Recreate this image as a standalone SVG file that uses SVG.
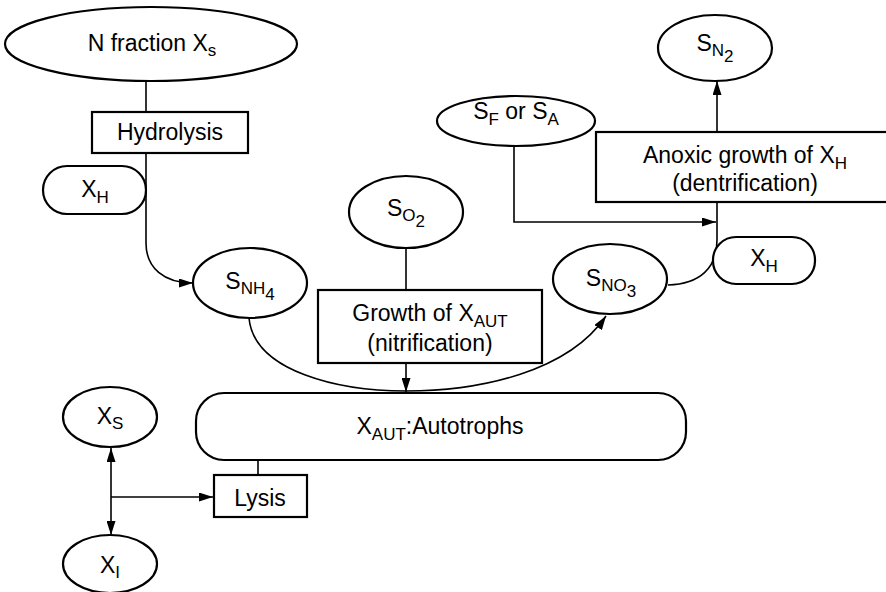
<svg xmlns="http://www.w3.org/2000/svg" width="886" height="592" viewBox="0 0 886 592">
  <style>
    .shape { fill: #fff; stroke: #000; stroke-width: 2.2; }
    .wire { fill: none; stroke: #000; stroke-width: 1.6; }
    text { font-family: "Liberation Sans", Arial, sans-serif; font-size: 23px; fill: #000; text-anchor: middle; }
    .sub { font-size: 17px; }
  </style>
  <defs>
    <marker id="arrow" viewBox="0 0 14 9" refX="14" refY="4.5" markerWidth="14" markerHeight="9" markerUnits="userSpaceOnUse" orient="auto">
      <path d="M0,0 L14,4.5 L0,9 Z" fill="#000"/>
    </marker>
  </defs>

  <g id="connectors">
    <!-- N fraction -> Hydrolysis -> S_NH4 -->
    <path class="wire" d="M146,81 V112"/>
    <path class="wire" d="M146,153 V243 C146,268 164,283 193,283" marker-end="url(#arrow)"/>
    <!-- S_O2 -> Growth of X_AUT -> autotrophs -->
    <path class="wire" d="M406,248 V290"/>
    <path class="wire" d="M406,363 V392" marker-end="url(#arrow)"/>
    <!-- S_NH4 -> S_NO3 -->
    <path class="wire" d="M249,318 C254,372 340,391 406,391 C480,391 568,372 606,316" marker-end="url(#arrow)"/>
    <!-- S_F or S_A -> denitrification path -->
    <path class="wire" d="M514,146 V222 H716" marker-end="url(#arrow)"/>
    <!-- S_NO3 -> Anoxic growth -> S_N2 -->
    <path class="wire" d="M668,285 C700,284 717,268 717,240 V202"/>
    <path class="wire" d="M717,132 V81" marker-end="url(#arrow)"/>
    <!-- Autotrophs -> Lysis -->
    <path class="wire" d="M258,460 V475"/>
    <!-- Lysis products -->
    <path class="wire" d="M111,497 V448" marker-end="url(#arrow)"/>
    <path class="wire" d="M111,497 V535" marker-end="url(#arrow)"/>
    <path class="wire" d="M111,497 H213" marker-end="url(#arrow)"/>
  </g>

  <g id="n-fraction">
    <ellipse class="shape" cx="151" cy="44" rx="146" ry="37"/>
    <text x="152" y="51">N fraction X<tspan class="sub" dy="5">s</tspan></text>
  </g>

  <g id="hydrolysis">
    <rect class="shape" x="92" y="112" width="156" height="41"/>
    <text x="170" y="140">Hydrolysis</text>
  </g>

  <g id="xh-left">
    <rect class="shape" x="43" y="166" width="103" height="48" rx="24"/>
    <text x="95" y="197">X<tspan class="sub" dy="6">H</tspan></text>
  </g>

  <g id="s-nh4">
    <ellipse class="shape" cx="250" cy="283" rx="57" ry="35"/>
    <text x="250" y="289">S<tspan class="sub" dy="5">NH</tspan><tspan class="sub" dy="6">4</tspan></text>
  </g>

  <g id="s-o2">
    <ellipse class="shape" cx="406" cy="212" rx="57" ry="36"/>
    <text x="406" y="216">S<tspan class="sub" dy="5">O</tspan><tspan class="sub" dy="6">2</tspan></text>
  </g>

  <g id="growth-aut">
    <rect class="shape" x="318" y="290" width="224" height="73"/>
    <text x="430" y="321">Growth of X<tspan class="sub" dy="6">AUT</tspan></text>
    <text x="430" y="351">(nitrification)</text>
  </g>

  <g id="s-no3">
    <ellipse class="shape" cx="610" cy="279" rx="57" ry="35"/>
    <text x="611" y="286">S<tspan class="sub" dy="5">NO</tspan><tspan class="sub" dy="6">3</tspan></text>
  </g>

  <g id="sf-sa">
    <ellipse class="shape" cx="516" cy="121" rx="79" ry="25"/>
    <text x="516" y="119">S<tspan class="sub" dy="6">F</tspan><tspan dy="-6"> or S</tspan><tspan class="sub" dy="6">A</tspan></text>
  </g>

  <g id="s-n2">
    <ellipse class="shape" cx="715" cy="48" rx="57" ry="33"/>
    <text x="715" y="51">S<tspan class="sub" dy="5">N</tspan><tspan class="sub" dy="6">2</tspan></text>
  </g>

  <g id="anoxic-growth">
    <rect class="shape" x="596" y="132" width="300" height="70"/>
    <text x="745" y="163">Anoxic growth of X<tspan class="sub" dy="6">H</tspan></text>
    <text x="745" y="191">(dentrification)</text>
  </g>

  <g id="xh-right">
    <rect class="shape" x="713" y="237" width="102" height="47" rx="23"/>
    <text x="764" y="266">X<tspan class="sub" dy="6">H</tspan></text>
  </g>

  <g id="autotrophs">
    <rect class="shape" x="196" y="393" width="490" height="67" rx="28"/>
    <text x="440" y="434">X<tspan class="sub" dy="6">AUT</tspan><tspan dy="-6">:Autotrophs</tspan></text>
  </g>

  <g id="lysis">
    <rect class="shape" x="214" y="475" width="93" height="42"/>
    <text x="260" y="506">Lysis</text>
  </g>

  <g id="xs">
    <ellipse class="shape" cx="110" cy="417" rx="47" ry="30"/>
    <text x="110" y="424">X<tspan class="sub" dy="5">S</tspan></text>
  </g>

  <g id="xi">
    <ellipse class="shape" cx="110" cy="564" rx="47" ry="29"/>
    <text x="110" y="573">X<tspan class="sub" dy="5">I</tspan></text>
  </g>
</svg>
